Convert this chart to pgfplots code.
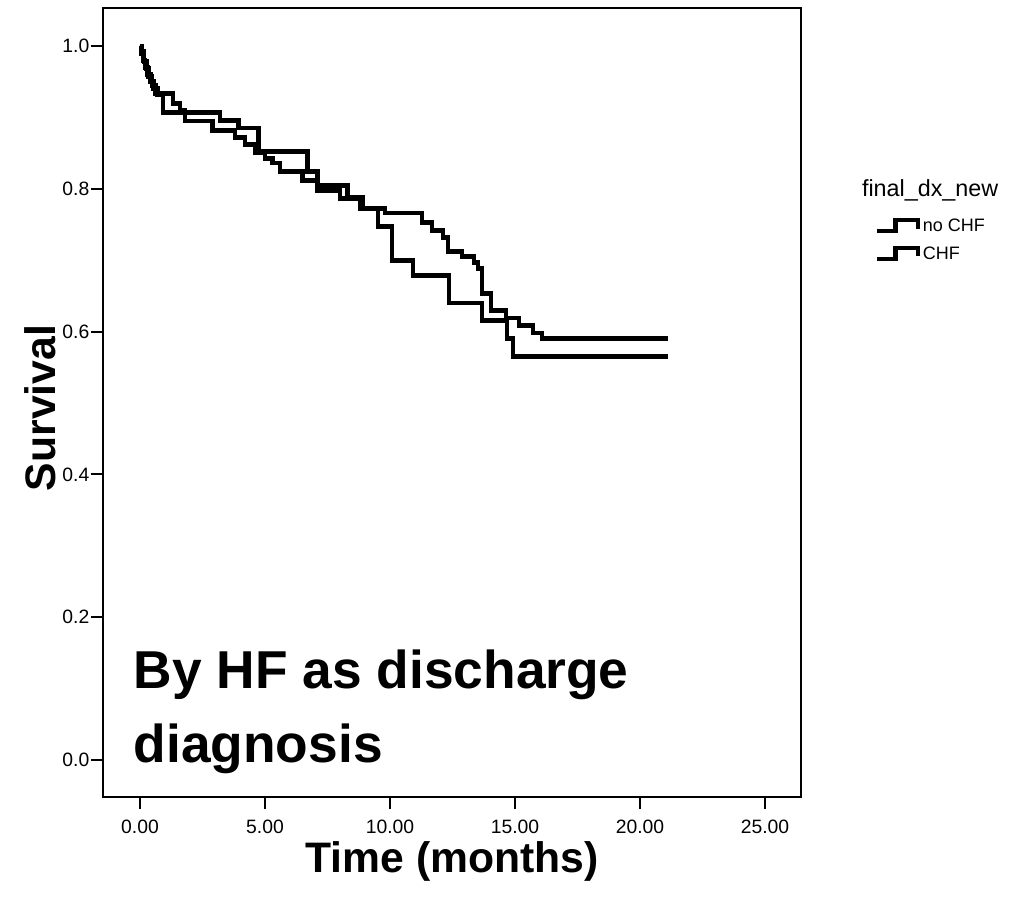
\documentclass[border=0pt]{standalone}
\usepackage{fontspec}
\setmainfont{Liberation Sans}
\usepackage{pgfplots}
\usepackage{pgfplotstable}
\pgfplotsset{compat=1.18}

\pgfplotstableread{
t S
0 1.000
0.05 0.990
0.12 0.980
0.20 0.970
0.30 0.960
0.42 0.950
0.55 0.940
0.70 0.932
0.92 0.907
3.20 0.896
3.95 0.885
4.75 0.852
6.70 0.824
7.10 0.805
8.30 0.788
8.90 0.772
9.52 0.747
10.08 0.700
10.92 0.679
12.36 0.640
13.68 0.616
14.68 0.590
14.92 0.565
21.10 0.565
}\noCHF

\pgfplotstableread{
t S
0 1.000
0.08 0.992
0.16 0.978
0.25 0.968
0.35 0.957
0.48 0.945
0.62 0.933
1.32 0.920
1.60 0.910
1.80 0.895
2.90 0.882
3.80 0.872
4.20 0.862
4.60 0.850
5.00 0.842
5.30 0.836
5.60 0.824
6.50 0.812
7.10 0.798
8.00 0.786
8.80 0.772
9.80 0.766
11.28 0.753
11.68 0.742
12.12 0.732
12.32 0.712
12.88 0.705
13.36 0.697
13.52 0.688
13.68 0.653
14.04 0.630
14.64 0.619
15.16 0.609
15.72 0.598
16.08 0.590
21.10 0.590
}\CHF

\begin{document}
\begin{tikzpicture}
\begin{axis}[
  at={(77.25pt,74.25pt)}, anchor=south west,
  scale only axis, width=523.5pt, height=591.75pt,
  xmin=-1.48, xmax=26.44, ymin=-0.0518, ymax=1.0532,
  clip=false,
  axis line style={line width=1.1pt},
  xtick={0,5,10,15,20,25},
  xticklabels={0.00,5.00,10.00,15.00,20.00,25.00},
  ytick={0,0.2,0.4,0.6,0.8,1.0},
  yticklabels={0.0,0.2,0.4,0.6,0.8,1.0},
  xtick pos=lower, ytick pos=left,
  tick align=outside, major tick length=9pt,
  tick style={line width=1.5pt, black},
  ticklabel style={font=\fontsize{14.5}{17}\selectfont},
  xticklabel style={yshift=-4.5pt},
  yticklabel style={xshift=2.25pt},
  xlabel={Time (months)},
  ylabel={Survival},
  label style={font=\fontsize{32}{38}\selectfont\bfseries},
  xlabel style={at={(axis description cs:0.5,-0.082)}, anchor=center},
  ylabel style={at={(axis description cs:-0.0903,0.493)}, anchor=center, rotate=0},
  legend style={draw=none, fill=none, at={(axis description cs:1.105,0.736)},
    anchor=north west, font=\fontsize{13.5}{16}\selectfont, row sep=6pt,
    inner sep=0pt},
  legend cell align=left,
  legend image code/.code={\draw[line width=3.3pt, line join=miter] (0pt,-3.5pt) -- (14pt,-3.5pt) -- (14pt,5pt) -- (31pt,5pt) -- (31pt,-1.5pt);},
]
\addplot[const plot, black, line width=3.6pt, line join=miter] table[x=t,y=S]{\noCHF};
\addlegendentry{no CHF}
\addplot[const plot, black, line width=3.6pt, line join=miter] table[x=t,y=S]{\CHF};
\addlegendentry{CHF}
\node[font=\fontsize{17.5}{20}\selectfont, anchor=base] at (axis description cs:1.185,0.7605) {final\_dx\_new};
\node[font=\fontsize{40}{48}\selectfont\bfseries, anchor=base west] at (axis cs:-0.44,0.1008) {By HF as discharge};
\node[font=\fontsize{40}{48}\selectfont\bfseries, anchor=base west] at (axis cs:-0.44,-0.004) {diagnosis};
\end{axis}
\pgfresetboundingbox
\path[use as bounding box] (0,0) rectangle (764.25pt,672pt);
\end{tikzpicture}
\end{document}
